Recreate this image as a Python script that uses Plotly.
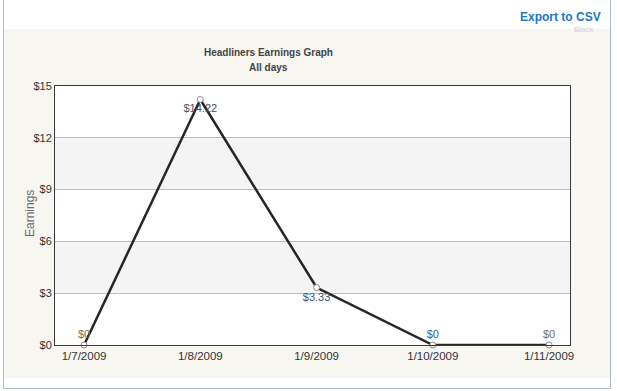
import plotly.graph_objects as go

dates = ["1/7/2009", "1/8/2009", "1/9/2009", "1/10/2009", "1/11/2009"]
earnings = [0, 14.22, 3.33, 0, 0]
labels = ["$0", "$14.22", "$3.33", "$0", "$0"]
label_pos = ["top center", "bottom center", "bottom center", "top center", "top center"]
label_colors = ["#7d6b52", "#4a5260", "#3b5575", "#2f5f9a", "#7d6b52"]
y_ticks = [0, 3, 6, 9, 12, 15]
y_tick_text = ["$0", "$3", "$6", "$9", "$12", "$15"]

W, H = 617, 391
L, R, T, B = 55, 570, 86, 345
FONT = "Liberation Sans, Arial, Helvetica"


def px(x):
    return (x - L) / (R - L)


def py(y):
    return (B - y) / (B - T)


fig = go.Figure()
fig.add_trace(go.Scatter(
    x=list(range(len(dates))), y=earnings,
    mode="lines+markers+text",
    line=dict(color="#262626", width=2.5),
    marker=dict(size=6, color="white", line=dict(color="#8a8a8a", width=1)),
    text=labels, textposition=label_pos,
    textfont=dict(family=FONT, size=11, color=label_colors),
    cliponaxis=False, hoverinfo="skip", showlegend=False,
))

shapes = [
    # beige panel
    dict(type="rect", xref="paper", yref="paper", x0=px(3.5), x1=px(610.5), y0=py(378), y1=py(29),
         fillcolor="#f7f6f1", line=dict(width=0), layer="below"),
    # white plot area
    dict(type="rect", xref="paper", yref="paper", x0=0, x1=1, y0=0, y1=1,
         fillcolor="white", line=dict(width=0), layer="below"),
    # outer border lines
    dict(type="line", xref="paper", yref="paper", x0=px(3.5), x1=px(3.5), y0=py(388.5), y1=py(0),
         line=dict(color="#a7bcc3", width=1), layer="below"),
    dict(type="line", xref="paper", yref="paper", x0=px(610.5), x1=px(610.5), y0=py(388.5), y1=py(0),
         line=dict(color="#a7bcc3", width=1), layer="below"),
    dict(type="line", xref="paper", yref="paper", x0=px(3.5), x1=px(610.5), y0=py(388.5), y1=py(388.5),
         line=dict(color="#a7bcc3", width=1), layer="below"),
]
# alternating bands
for lo, hi in [(3, 6), (9, 12)]:
    shapes.append(dict(type="rect", xref="paper", yref="y", x0=0, x1=1, y0=lo, y1=hi,
                       fillcolor="#f4f4f4", line=dict(width=0), layer="below"))


def ann(text, x, y, size, color, **kw):
    d = dict(text=text, x=px(x), y=py(y), xref="paper", yref="paper", showarrow=False,
             xanchor="center", yanchor="middle", font=dict(family=FONT, size=size, color=color))
    d.update(kw)
    return d


annotations = [
    ann("<b>Headliners Earnings Graph</b>", 268.5, 52, 10, "#444444"),
    ann("<b>All days</b>", 268.5, 68, 10, "#444444"),
    ann("Block", 584, 29, 8, "#d0d0d0"),
    ann("<b>Export to CSV</b>", 603, 17, 12, "#1a78c8", xanchor="right"),
    ann("Earnings", 30, 214, 12, "#6a6a6a", textangle=-90),
]

fig.update_layout(
    width=W, height=H,
    margin=dict(l=L, r=W - R, t=T, b=H - B, pad=0),
    paper_bgcolor="white", plot_bgcolor="white",
    shapes=shapes, annotations=annotations,
    font=dict(family=FONT, size=11, color="#333333"),
    xaxis=dict(
        range=[-0.25, 4.18], tickmode="array", tickvals=list(range(len(dates))), ticktext=dates,
        showgrid=False, zeroline=False, showline=True, linecolor="#3a3a3a", linewidth=1,
        mirror=True, ticks="", tickfont=dict(size=11.5, color="#333333"), fixedrange=True,
    ),
    yaxis=dict(
        range=[0, 15], tickmode="array", tickvals=y_ticks, ticktext=y_tick_text,
        showgrid=True, gridcolor="#bdbdbd", gridwidth=1, zeroline=False,
        showline=True, linecolor="#3a3a3a", linewidth=1, mirror=True, ticks="",
        tickfont=dict(size=11, color="#333333"), fixedrange=True,
    ),
)

fig.write_html(
    "out.html",
    config={"displayModeBar": False},
    post_script="document.body.style.margin='0';document.body.style.padding='0';",
)
